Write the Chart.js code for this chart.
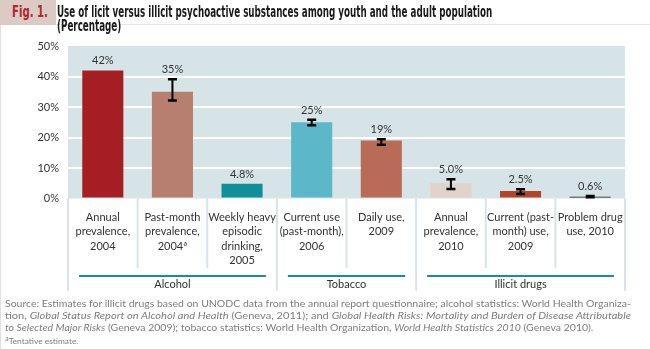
<!DOCTYPE html>
<html>
<head>
<meta charset="utf-8">
<script src="https://cdn.jsdelivr.net/npm/chart.js@4"></script>
<style>
    html, body { margin: 0; padding: 0; background: #fff; }
    #wrap { position: relative; width: 650px; height: 349px; overflow: hidden; font-family: Lato, "Open Sans", sans-serif; }
    #chart { position: absolute; left: 0; top: 0; }
    .edge { position: absolute; left: 0; top: 25px; width: 1px; height: 324px; background: #eadcd8; }
    .rule { position: absolute; left: 56px; top: 24px; width: 594px; height: 1px; background: #efe4e1; }
    .fig-box { position: absolute; left: 0; top: 0; width: 56px; height: 25px; background: #dccac5; }
    .fit { position: absolute; white-space: nowrap; transform-origin: 0 50%; }
    .fig { left: 12px; top: 4px; font: bold 15px/16px "Liberation Sans Narrow", "DejaVu Sans Condensed", sans-serif; color: #b0262d; }
    .title { left: 57px; font: bold 15px/15px "Liberation Sans Narrow", "DejaVu Sans Condensed", sans-serif; color: #1a1a1a; }
    .src { left: 5px; font-size: 10px; line-height: 12px; color: #7d7d7d; }
    .src sup { font-size: 7px; vertical-align: 3px; }
</style>
</head>
<body>
<div id="wrap">
    <canvas id="chart" width="650" height="349"></canvas>
    <div class="edge"></div>
    <div class="rule"></div>
    <div class="fig-box"></div>
    <div class="fit fig" data-w="36">Fig. 1.</div>
    <div class="fit title" id="t1" style="top:5px" data-w="435">Use of licit versus illicit psychoactive substances among youth and the adult population</div>
    <div class="fit title" id="t2" style="top:19px">(Percentage)</div>
    <div class="fit src" id="s1" style="top:297px" data-w="626">Source: Estimates for illicit drugs based on UNODC data from the annual report questionnaire; alcohol statistics: World Health Organiza-</div>
    <div class="fit src" style="top:309px" data-w="626">tion, <i>Global Status Report on Alcohol and Health</i> (Geneva, 2011); and <i>Global Health Risks: Mortality and Burden of Disease Attributable</i></div>
    <div class="fit src same" style="top:321px"><i>to Selected Major Risks</i> (Geneva 2009); tobacco statistics: World Health Organization, <i>World Health Statistics 2010</i> (Geneva 2010).</div>
    <div class="fit src same" style="top:332px;font-size:8px"><sup>a</sup>Tentative estimate.</div>
</div>
<script>
// --- Data ---
const categories = [
    ['Annual', 'prevalence,', '2004'],
    ['Past-month', 'prevalence,', '2004\u00aa'],
    ['Weekly heavy', 'episodic', 'drinking,', '2005'],
    ['Current use', '(past-month),', '2006'],
    ['Daily use,', '2009'],
    ['Annual', 'prevalence,', '2010'],
    ['Current (past-', 'month) use,', '2009'],
    ['Problem drug', 'use, 2010']
];
const values = [42, 35, 4.8, 25, 19, 5.0, 2.5, 0.6];
const errLow = [null, 32.1, null, 24.0, 17.6, 3.1, 1.5, 0.4];
const errHigh = [null, 39.1, null, 25.8, 19.4, 6.3, 3.0, 0.8];
const barColors = ['#a51e23', '#b77f6f', '#108f9a', '#5cb8c8', '#b86b56', '#e2d2cc', '#b1442b', '#111111'];
const groupNames = ['Alcohol', 'Tobacco', 'Illicit drugs'];
const groupSizes = [3, 2, 3];
const yTicks = [0, 10, 20, 30, 40, 50];

const PLOT_BG = '#d6e4e8';
const TEXT = '#333333';
const FONT = 'Lato, "Open Sans", sans-serif';

// Fits each header / source line into its measured width
document.querySelectorAll('.fit').forEach(el => {
    const w = parseFloat(el.dataset.w);
    if (!w) return;
    el.style.transform = `scaleX(${w / el.scrollWidth})`;
});
document.getElementById('t2').style.transform = document.getElementById('t1').style.transform;
document.querySelectorAll('.same').forEach(el => {
    el.style.transform = document.getElementById('s1').style.transform;
});

function valueText(v) {
    return (v >= 10 ? v.toFixed(0) : v.toFixed(1)) + '%';
}

// category boundaries in pixels (n + 1 edges)
function edges(chart) {
    const xs = chart.scales.x;
    const area = chart.chartArea;
    const out = [area.left];
    for (let i = 1; i < categories.length; i++) {
        out.push((xs.getPixelForValue(i - 1) + xs.getPixelForValue(i)) / 2);
    }
    out.push(area.right);
    return out;
}

const decorations = {
    id: 'decorations',
    beforeDraw(chart) {
        const { ctx, chartArea: a } = chart;
        ctx.save();
        ctx.fillStyle = PLOT_BG;
        ctx.fillRect(a.left, a.top, a.right - a.left, a.bottom - a.top);
        ctx.restore();
    },
    afterDraw(chart) {
        const { ctx, chartArea: a } = chart;
        const ys = chart.scales.y;
        const meta = chart.getDatasetMeta(0);
        const ex = edges(chart);

        ctx.save();
        // separators under the plot
        const groupEdges = [0];
        groupSizes.reduce((s, n) => { groupEdges.push(s + n); return s + n; }, 0);
        ctx.strokeStyle = PLOT_BG;
        ctx.lineWidth = 2;
        ex.forEach((x, i) => {
            const isGroup = groupEdges.includes(i);
            ctx.beginPath();
            ctx.moveTo(x, a.bottom);
            ctx.lineTo(x, isGroup ? 291 : 268);
            ctx.stroke();
        });

        // group rules and names
        let start = 0;
        ctx.font = '11px ' + FONT;
        ctx.textAlign = 'center';
        ctx.textBaseline = 'middle';
        groupSizes.forEach((n, g) => {
            const x0 = ex[start] + 11;
            const x1 = ex[start + n] - 11;
            ctx.strokeStyle = '#1b8c99';
            ctx.lineWidth = 2;
            ctx.beginPath();
            ctx.moveTo(x0, 276);
            ctx.lineTo(x1, 276);
            ctx.stroke();
            ctx.fillStyle = TEXT;
            ctx.fillText(groupNames[g], (x0 + x1) / 2, 284.5);
            start += n;
        });

        // error bars
        ctx.strokeStyle = '#000';
        meta.data.forEach((bar, i) => {
            if (errLow[i] == null) return;
            const yl = ys.getPixelForValue(errLow[i]);
            const yh = ys.getPixelForValue(errHigh[i]);
            ctx.lineWidth = 2;
            ctx.beginPath();
            ctx.moveTo(bar.x, yl);
            ctx.lineTo(bar.x, yh);
            ctx.stroke();
            ctx.lineWidth = 2.5;
            ctx.beginPath();
            ctx.moveTo(bar.x - 4.5, yl);
            ctx.lineTo(bar.x + 4.5, yl);
            ctx.moveTo(bar.x - 4.5, yh);
            ctx.lineTo(bar.x + 4.5, yh);
            ctx.stroke();
        });

        // value labels
        ctx.fillStyle = TEXT;
        ctx.font = '11px ' + FONT;
        ctx.textBaseline = 'bottom';
        meta.data.forEach((bar, i) => {
            const top = Math.min(bar.y, errHigh[i] != null ? ys.getPixelForValue(errHigh[i]) : bar.y);
            ctx.fillText(valueText(values[i]), bar.x, top - 4);
        });
        ctx.restore();
    }
};

new Chart(document.getElementById('chart'), {
    type: 'bar',
    data: {
        labels: categories,
        datasets: [{
            data: values,
            backgroundColor: barColors,
            borderWidth: 0,
            barPercentage: 0.59,
            categoryPercentage: 1
        }]
    },
    options: {
        responsive: false,
        animation: false,
        events: [],
        layout: { padding: { top: 46, right: 25, left: 0, bottom: 0 } },
        plugins: { legend: { display: false }, tooltip: { enabled: false } },
        scales: {
            x: {
                grid: { display: false },
                border: { display: false },
                afterFit(scale) { scale.height = 150.5; },
                ticks: {
                    autoSkip: false,
                    maxRotation: 0,
                    minRotation: 0,
                    padding: 4,
                    color: TEXT,
                    font: { family: FONT, size: 11, lineHeight: 1.3 }
                }
            },
            y: {
                min: 0,
                max: 50,
                afterFit(scale) { scale.width = 68; },
                afterBuildTicks(scale) { scale.ticks = yTicks.map(v => ({ value: v })); },
                border: { display: false },
                grid: {
                    drawTicks: false,
                    lineWidth: 2,
                    color: ctx => (ctx.tick && (ctx.tick.value === 0 || ctx.tick.value === 50)) ? 'rgba(0,0,0,0)' : '#ffffff'
                },
                ticks: {
                    padding: 9,
                    color: TEXT,
                    font: { family: FONT, size: 11 },
                    callback: v => v + '%'
                }
            }
        }
    },
    plugins: [decorations]
});
</script>
</body>
</html>
